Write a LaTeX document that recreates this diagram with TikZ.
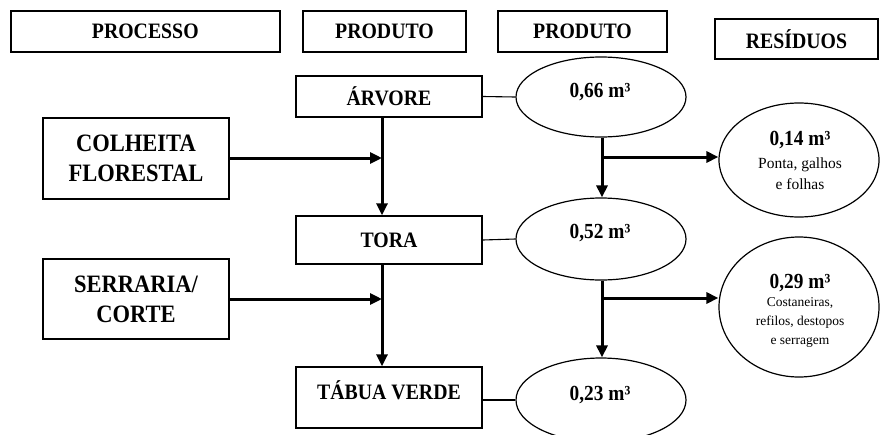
\documentclass[tikz,border=0pt]{standalone}
\usepackage{fontspec}
\setmainfont{Liberation Serif}
\newfontfamily\narrowserif[FakeStretch=0.9]{Liberation Serif}
\usetikzlibrary{arrows.meta,shapes.geometric}
\begin{document}
\begin{tikzpicture}[x=1pt,y=-1pt,
  box/.style={draw,line width=1.4pt,rectangle,inner sep=0pt,align=center,
    font=\narrowserif\fontsize{22}{26}\selectfont\bfseries},
  bigbox/.style={box,font=\narrowserif\fontsize{25}{30}\selectfont\bfseries},
  oval/.style={draw,line width=1.2pt,ellipse,inner sep=0pt},
  num/.style={inner sep=0pt,anchor=base,font=\narrowserif\fontsize{21.5}{24}\selectfont\bfseries},
  note/.style={inner sep=0pt,anchor=base,font=\fontsize{15.5}{18}\selectfont},
  smallnote/.style={inner sep=0pt,anchor=base,font=\fontsize{13.5}{16}\selectfont},
  flow/.style={line width=3pt,-{Triangle[length=12pt,width=11pt]}},
  link/.style={line width=1.1pt}]
\useasboundingbox (0,0) rectangle (880,434);

% column headers
\node[box,minimum width=269pt,minimum height=41pt] (hproc) at (145.3,31.5) {PROCESSO};
\node[box,minimum width=163pt,minimum height=41pt] (hprod) at (384.5,31.5) {PRODUTO};
\node[box,minimum width=169pt,minimum height=41pt] (hvol) at (582.5,31.5) {PRODUTO};
\node[box,minimum width=163pt,minimum height=40pt] (hres) at (796.5,39) {RESÍDUOS};

% processes
\node[bigbox,minimum width=186pt,minimum height=81pt] (colh) at (136,158.5) {COLHEITA\\FLORESTAL};
\node[bigbox,minimum width=186pt,minimum height=80pt] (serr) at (136,299) {SERRARIA/\\CORTE};

% products
\node[box,minimum width=186pt,minimum height=41pt] (arv) at (389,96.5) {ÁRVORE};
\node[box,minimum width=186pt,minimum height=48pt] (tora) at (389,240) {TORA};
\node[box,minimum width=186pt,minimum height=61pt] (tab) at (389,397.5) {};
\node[box,draw=none,minimum size=0pt] (tabt) at (389,390) {TÁBUA VERDE};

% volumes
\node[oval,minimum width=170pt,minimum height=80pt] (e66) at (601,97) {};
\node[oval,minimum width=170pt,minimum height=82pt] (e52) at (601,239) {};
\node[oval,minimum width=170pt,minimum height=84pt] (e23) at (601,400) {};
\node[num] (e66t) at (600,97) {0,66 m³};
\node[num] (e52t) at (600,238) {0,52 m³};
\node[num] (e23t) at (600,400) {0,23 m³};

% residues
\node[oval,minimum width=160pt,minimum height=114pt] (e14) at (799,160) {};
\node[oval,minimum width=160pt,minimum height=140pt] (e29) at (799,307) {};
\node[num] (e14t) at (800,145) {0,14 m³};
\node[note] (e14a) at (800,168) {Ponta, galhos};
\node[note] (e14b) at (800,189) {e folhas};
\node[num] (e29t) at (800,288) {0,29 m³};
\node[smallnote] (e29a) at (800,306) {Costaneiras,};
\node[smallnote] (e29b) at (800,325) {refilos, destopos};
\node[smallnote] (e29c) at (800,344) {e serragem};

% junctions on the flow lines
\coordinate (j1) at (382,158);
\coordinate (j2) at (382,299);
\coordinate (k1) at (602,157);
\coordinate (k2) at (602,298);

% product flow
\draw[flow] (arv.south -| j1) -- (tora.north -| j1);
\draw[flow] (tora.south -| j1) -- (tab.north -| j1);
\draw[flow] (colh.east |- j1) -- (j1);
\draw[flow] (serr.east |- j2) -- (j2);

% volume flow
\draw[flow] (e66.south -| k1) -- (e52.north -| k1);
\draw[flow] (e52.south -| k2) -- (e23.north -| k2);
\draw[flow] (k1) -- (k1 -| e14.west);
\draw[flow] (k2) -- (k2 -| e29.west);

% product to volume
\draw[link] (arv.east) -- (e66.west);
\draw[link] (tora.east) -- (e52.west);
\draw[link] (tab.east |- e23.west) -- (e23.west);
\end{tikzpicture}
\end{document}
